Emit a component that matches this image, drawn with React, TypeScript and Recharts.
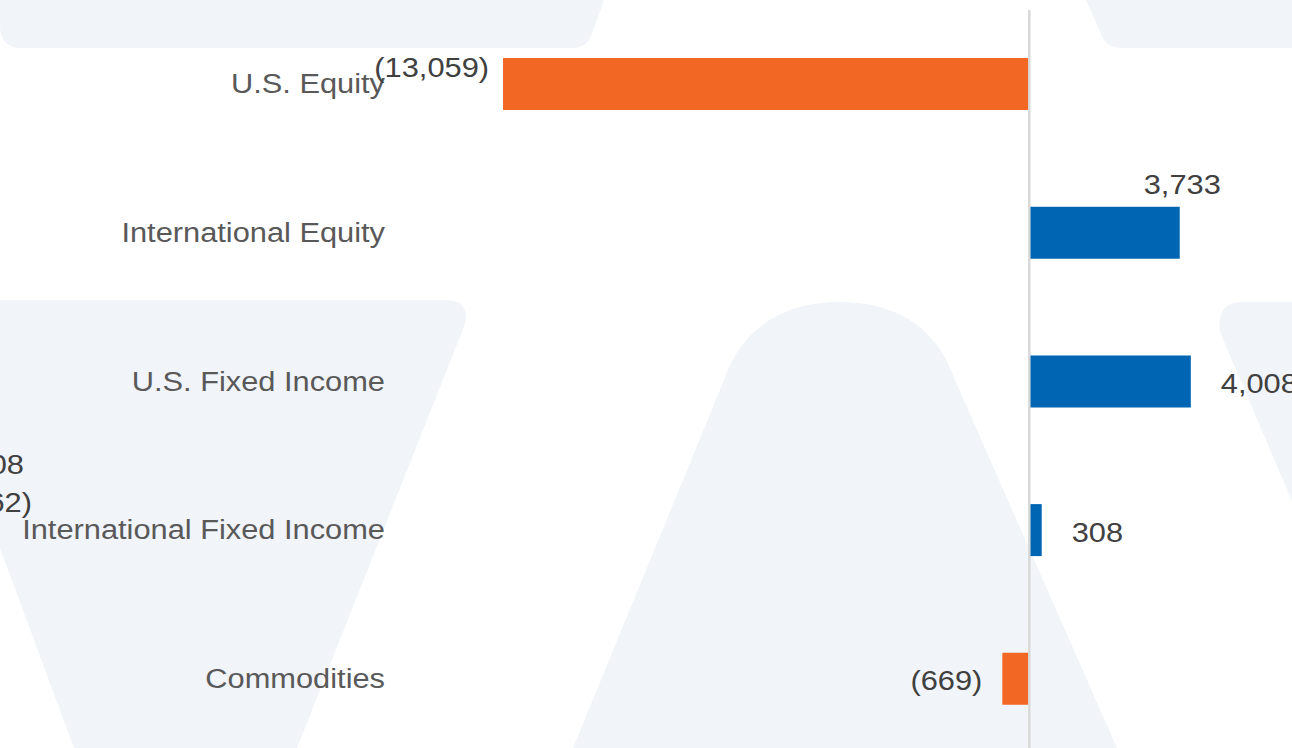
import { Bar, BarChart, Cell, LabelList, ReferenceLine, XAxis, YAxis } from 'recharts';

const categories = ['U.S. Equity', 'International Equity', 'U.S. Fixed Income', 'International Fixed Income', 'Commodities'];
const flows = [-13059, 3733, 4008, 308, -669];
// where each data label sits relative to its bar (hand-placed in the original)
const labelPlacement = ['left-above', 'above', 'right', 'right', 'left'];
// fragments of labels cut off at the left edge of the picture
const strayLabels = ['08', '62)'];

const data = categories.map((name, i) => ({ name, value: flows[i] }));

const FONT = '"Liberation Sans", Arial, Helvetica, sans-serif';
const ORANGE = '#F26724';
const BLUE = '#0066B3';
const WATERMARK = '#F1F4F9';

const formatFlow = (v: number) => {
  const s = Math.abs(v).toLocaleString('en-US');
  return v < 0 ? `(${s})` : s;
};

function CategoryTick({ x, y, payload }: { x?: number; y?: number; payload?: { value: string } }) {
  return (
    <text
      transform={`translate(${x},${(y ?? 0) + 9}) scale(1.1,1)`}
      textAnchor="end"
      fill="#595959"
      fontSize={28}
      fontFamily={FONT}
    >
      {payload?.value}
    </text>
  );
}

function FlowLabel(props: any) {
  const { x, y, width, height, value, index } = props;
  const left = Math.min(x, x + width);
  const right = Math.max(x, x + width);
  const cy = y + height / 2;
  let tx = right + 30;
  let ty = cy + 11.5;
  let anchor = 'start';
  switch (labelPlacement[index]) {
    case 'left-above':
      tx = left - 14;
      ty = cy - 7.5;
      anchor = 'end';
      break;
    case 'above':
      tx = right + 2.5;
      ty = y - 12.5;
      anchor = 'middle';
      break;
    case 'left':
      tx = left - 20;
      ty = cy + 11;
      anchor = 'end';
      break;
    default:
      break;
  }
  return (
    <text
      transform={`translate(${tx},${ty}) scale(1.1,1)`}
      textAnchor={anchor}
      fill="#404040"
      fontSize={28}
      fontFamily={FONT}
    >
      {formatFlow(Number(value))}
    </text>
  );
}

function Watermark() {
  return (
    <svg width={1292} height={748} style={{ position: 'absolute', left: 0, top: 0 }}>
      <g fill={WATERMARK}>
        <path d="M0,0 L604,0 L592,34 Q587,48 572,48 L22,48 Q0,48 0,26 Z" />
        <path d="M1086,0 L1292,0 L1292,48 L1122,48 Q1106,48 1101,34 Z" />
        <path d="M-92,300 L446,300 Q470,300 465,324 L297,748 L74,748 Z" />
        <path d="M573,748 L724,380 C744,322 790,302 840,302 C890,302 935,322 955,380 L1117,748 Z" />
        <path d="M1242,302 L1300,302 L1300,520 L1220,332 Q1216,302 1242,302 Z" />
      </g>
      <g fill="#404040" fontSize={28} fontFamily={FONT} textAnchor="end">
        <text transform="translate(24,474) scale(1.1,1)">{strayLabels[0]}</text>
        <text transform="translate(32,512) scale(1.1,1)">{strayLabels[1]}</text>
      </g>
    </svg>
  );
}

export default function App() {
  return (
    <div
      style={{
        position: 'absolute',
        left: 0,
        top: 0,
        width: 1292,
        height: 748,
        overflow: 'hidden',
        background: '#ffffff',
      }}
    >
      <Watermark />
      <div style={{ position: 'absolute', left: 0, top: 0 }}>
        <BarChart
          width={1460}
          height={760}
          data={data}
          layout="vertical"
          margin={{ top: 10, right: 27.7, left: 0, bottom: 6.5 }}
          barSize={52}
        >
          <XAxis type="number" domain={[-15000, 10000]} allowDataOverflow hide />
          <YAxis
            type="category"
            dataKey="name"
            width={424.8}
            axisLine={false}
            tickLine={false}
            tickSize={0}
            tickMargin={39.8}
            interval={0}
            tick={<CategoryTick />}
          />
          <Bar dataKey="value" isAnimationActive={false}>
            {data.map((d) => (
              <Cell key={d.name} fill={d.value < 0 ? ORANGE : BLUE} />
            ))}
            <LabelList dataKey="value" content={<FlowLabel />} />
          </Bar>
          <ReferenceLine x={0} stroke="#D9D9D9" strokeWidth={2.5} ifOverflow="extendDomain" />
        </BarChart>
      </div>
    </div>
  );
}
